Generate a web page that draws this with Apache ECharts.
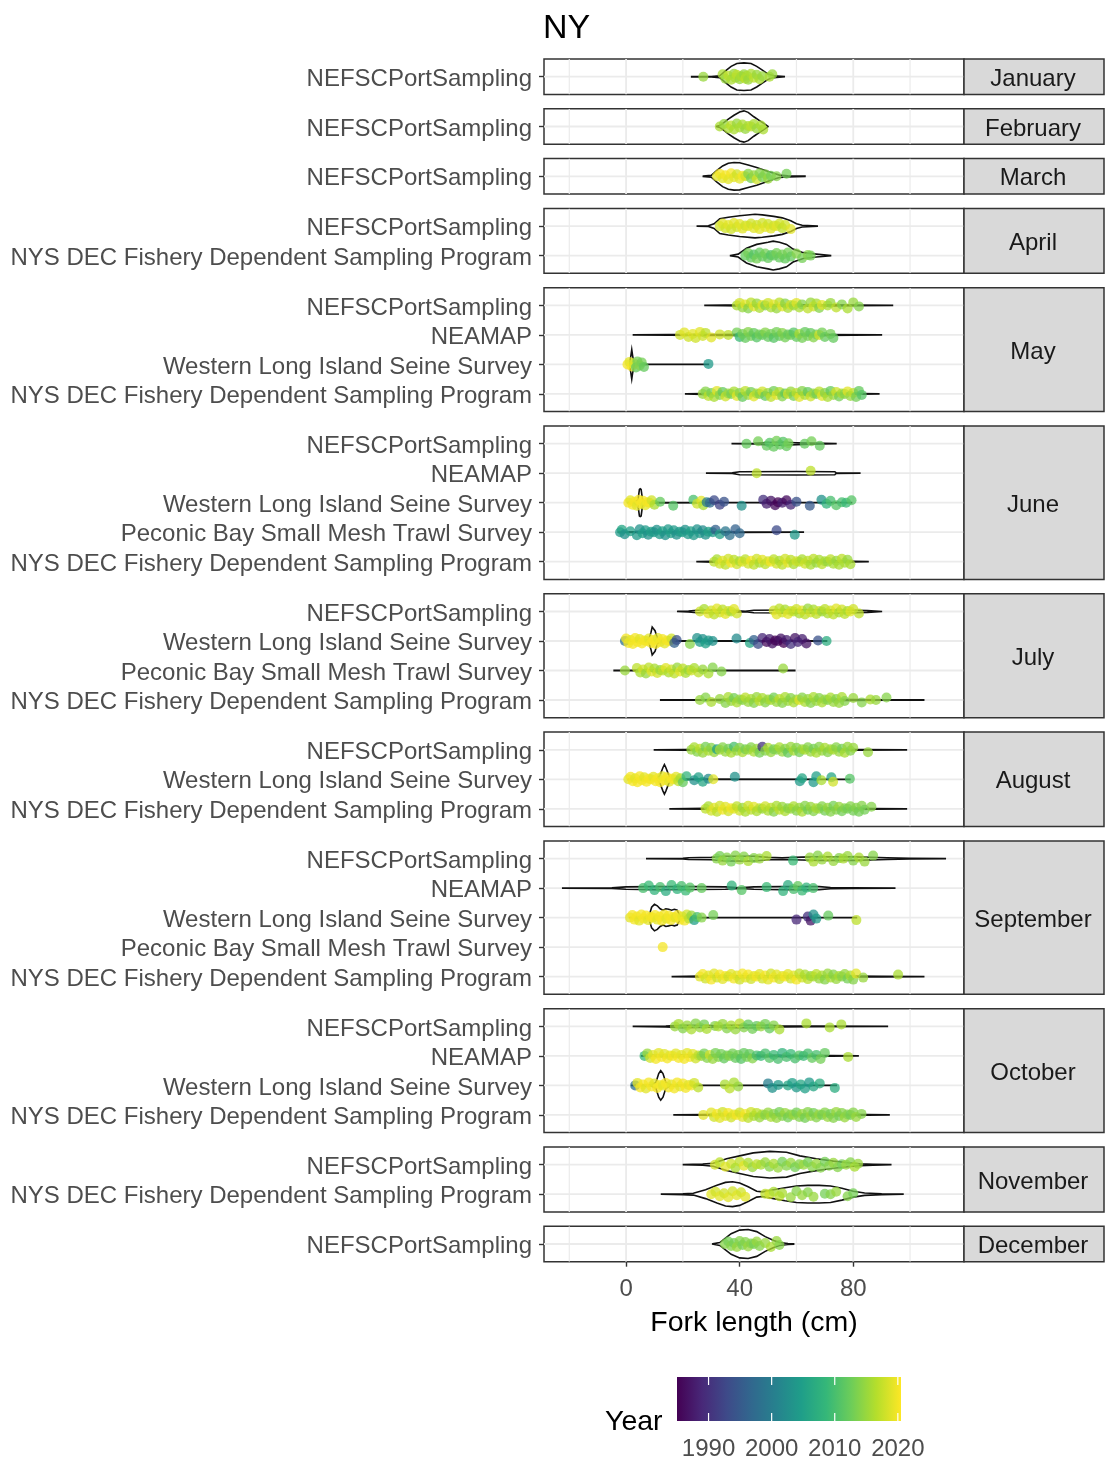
<!DOCTYPE html>
<html>
<head>
<meta charset="utf-8">
<script src="https://cdn.jsdelivr.net/npm/echarts@6/dist/echarts.min.js"></script>
<style>html,body{margin:0;padding:0;background:#fff}#c{width:1105px;height:1462px}</style>
</head>
<body>
<div id="c"></div>
<script>
// ---------------- DATA ----------------
const months = ['January','February','March','April','May','June','July','August','September','October','November','December'];
const S_NEFSC = 'NEFSCPortSampling', S_NEAMAP = 'NEAMAP', S_WLIS = 'Western Long Island Seine Survey',
      S_PEC = 'Peconic Bay Small Mesh Trawl Survey', S_NYS = 'NYS DEC Fishery Dependent Sampling Program';
const sourcesByMonth = [
  [S_NEFSC],[S_NEFSC],[S_NEFSC],[S_NEFSC,S_NYS],
  [S_NEFSC,S_NEAMAP,S_WLIS,S_NYS],
  [S_NEFSC,S_NEAMAP,S_WLIS,S_PEC,S_NYS],
  [S_NEFSC,S_WLIS,S_PEC,S_NYS],
  [S_NEFSC,S_WLIS,S_NYS],
  [S_NEFSC,S_NEAMAP,S_WLIS,S_PEC,S_NYS],
  [S_NEFSC,S_NEAMAP,S_WLIS,S_NYS],
  [S_NEFSC,S_NYS],[S_NEFSC]
];
const xMajorTicks = [0,40,80];
const xMinorGrid = [-20,20,60,100];
const yearTicks = [1990,2000,2010,2020];
const yearRange = [1985,2020.5];
const viridis = ['#440154','#482878','#3e4a89','#31688e','#26828e','#1f9e89','#35b779','#6dcd59','#b4de2c','#fde725'];

// points: [fork length cm, year]; violins: [fork length cm, half width in category units]
const jan_nefsc_pts = [[27.2,2015],[34,2016],[35,2015],[36,2017],[37,2016],[38,2015],[38.5,2016],[39,2017],[40,2015],[40.5,2016],[41,2016],[41.5,2015],[42,2017],[42.5,2016],[43,2015],[44,2016],[45,2017],[46,2015],[47,2016],[48,2015],[50.5,2016],[51.5,2015]];
const jan_nefsc_vio = [[23.1,0.005],[30,0.008],[33,0.03],[35,0.2],[37,0.35],[39,0.45],[41.5,0.47],[44,0.45],[46,0.35],[48,0.22],[50,0.09],[52,0.03],[55.7,0.005]];
const feb_nefsc_pts = [[33,2016],[34.5,2015],[36,2016],[37,2017],[38,2016],[39,2015],[40,2016],[41,2016],[42,2015],[43,2016],[44,2017],[45,2016],[46,2015],[47.5,2016],[48.3,2016]];
const feb_nefsc_vio = [[31.9,0.005],[33,0.03],[34,0.1],[36,0.25],[38,0.38],[40,0.49],[41.5,0.53],[43,0.48],[45,0.33],[47,0.2],[49,0.07],[50,0.005]];
const mar_nefsc_pts = [[32,2019],[33,2020],[34,2019],[35,2020],[36,2019],[37,2020],[38,2019],[39,2018],[40,2019],[41,2020],[42,2018],[43,2014],[44,2013],[45,2015],[46,2018],[47,2014],[48,2013],[49,2014],[50,2015],[51,2013],[53,2014],[56.5,2013]];
const mar_nefsc_vio = [[27.2,0.005],[30,0.03],[32,0.2],[34,0.35],[36,0.44],[38,0.47],[40,0.46],[43,0.38],[46,0.3],[49,0.2],[52,0.1],[54,0.04],[57,0.02],[63,0.005]];
const apr_nefsc_pts = [[33,2018],[34,2019],[35,2018],[36,2019],[37,2018],[38,2019],[39,2018],[40,2019],[41,2019],[42,2018],[43,2019],[44,2018],[45,2019],[46,2018],[47,2019],[48,2018],[49,2019],[50,2018],[51,2019],[52,2018],[53,2019],[54,2018],[55,2017],[56,2018],[58,2019]];
const apr_nefsc_vio = [[25.1,0.005],[29,0.01],[31,0.08],[33,0.25],[36,0.3],[40,0.35],[45.4,0.4],[48,0.38],[52,0.33],[55,0.28],[58,0.18],[60,0.08],[62,0.03],[67.3,0.005]];
const apr_nys_pts = [[42,2012],[43,2013],[44,2012],[45,2011],[46,2013],[47,2012],[48,2012],[49,2013],[50,2012],[51,2011],[52,2012],[53,2013],[54,2012],[55,2013],[56,2012],[57,2013],[58,2012],[60,2014],[62,2013],[64,2014],[65,2013]];
const apr_nys_vio = [[36.8,0.005],[39.5,0.05],[42.4,0.25],[46,0.38],[50,0.45],[51.8,0.49],[54,0.45],[56.5,0.38],[58.8,0.22],[62.4,0.1],[67,0.05],[72,0.005]];
const may_nefsc_pts = [[39,2016],[40,2018],[41,2015],[42,2019],[43,2014],[44,2017],[45,2019],[46,2015],[47,2016],[48,2019],[49,2014],[50,2018],[51,2016],[52,2019],[53,2015],[54,2017],[55,2019],[56,2014],[57,2016],[58,2018],[59,2015],[60,2019],[61,2016],[62,2014],[64,2017],[65,2015],[66,2018],[67,2016],[68,2014],[69,2019],[71,2016],[72,2015],[74,2017],[76,2014],[78,2016],[80,2015],[82,2014]];
const may_nefsc_vio = [[27.8,0.003],[35,0.01],[40,0.015],[50,0.02],[60,0.02],[70,0.018],[80,0.012],[93.8,0.003]];
const may_neamap_pts = [[19,2018],[20.5,2019],[22,2018],[23.5,2019],[24.5,2018],[26,2019],[27,2018],[28,2017],[30,2019],[33,2018],[36,2017],[39,2013],[40,2009],[41,2013],[42,2012],[43,2014],[44,2013],[45,2012],[46,2011],[47,2013],[48,2012],[49,2014],[50,2012],[51,2013],[52,2011],[53,2013],[54,2012],[55,2014],[56,2013],[57,2012],[58,2013],[59,2011],[60,2012],[61,2016],[62,2013],[63,2012],[64,2013],[65,2012],[66,2014],[67,2013],[68,2018],[69,2013],[70,2012],[72,2013],[73,2012]];
const may_neamap_vio = [[2.6,0.003],[15,0.012],[30,0.015],[50,0.02],[70,0.015],[89.9,0.003]];
const may_wlis_pts = [[0.5,2020],[1.2,2019],[2,2020],[2.8,2018],[3.5,2012],[4,2013],[4.8,2014],[5.5,2013],[6.3,2012],[29,2004]];
const may_wlis_vio = [[1.2,0.01],[1.7,0.3],[2,0.5],[2.3,0.3],[2.8,0.02],[8,0.005],[29,0.003]];
const may_nys_pts = [[27,2015],[28,2014],[29,2017],[30,2013],[31,2016],[32,2019],[33,2014],[34,2012],[35,2018],[36,2015],[37,2013],[38,2016],[39,2019],[40,2014],[41,2012],[42,2017],[43,2015],[44,2013],[45,2019],[46,2016],[47,2014],[48,2018],[49,2012],[50,2015],[51,2017],[52,2013],[53,2019],[54,2016],[55,2014],[56,2012],[57,2018],[58,2015],[59,2013],[60,2017],[61,2019],[62,2014],[63,2016],[64,2012],[65,2018],[66,2015],[67,2013],[68,2017],[69,2019],[70,2014],[71,2016],[72,2012],[73,2015],[74,2018],[75,2013],[76,2016],[77,2014],[78,2019],[79,2015],[80,2017],[81,2013],[82,2012],[83,2011]];
const may_nys_vio = [[21,0.003],[27,0.015],[40,0.02],[55,0.025],[70,0.02],[83,0.012],[89,0.003]];
const jun_nefsc_pts = [[42.4,2012],[46.5,2013],[49.5,2012],[50.6,2011],[52,2012],[53,2013],[54.2,2012],[55.3,2011],[56.5,2012],[57.2,2013],[62.9,2012],[65.3,2013],[68.2,2012]];
const jun_nefsc_vio = [[37.4,0.003],[45,0.01],[50,0.04],[55,0.05],[60,0.03],[65,0.02],[73.9,0.003]];
const jun_neamap_pts = [[46,2017],[65,2017]];
const jun_neamap_vio = [[28.4,0.003],[37.4,0.01],[40,0.05],[60,0.06],[73.5,0.05],[74,0.01],[82.3,0.003]];
const jun_wlis_pts = [[0.8,2020],[1.5,2019],[2.3,2020],[3,2020],[3.8,2019],[4.5,2020],[5.3,2020],[6,2020],[6.8,2019],[7.5,2020],[8.3,2020],[9,2018],[10,2016],[12,2012],[16.6,2011],[23.7,2010],[25,2018],[26.5,2019],[27.2,2016],[28.4,2000],[29.5,1997],[31,1993],[33,1992],[34.5,1994],[40.7,2003],[48.3,1990],[49.5,1988],[51,1987],[52.5,1986],[53.5,1985],[55,1988],[56.5,1986],[58,1989],[60,1994],[64.7,1995],[68.8,2003],[70.6,2008],[72,2010],[74,2011],[76,2010],[77.5,2009],[79.4,2011]];
const jun_wlis_vio = [[0.8,0.003],[3,0.02],[4.2,0.1],[4.7,0.45],[5,0.47],[5.3,0.45],[5.8,0.1],[7,0.02],[12,0.006],[30,0.004],[60,0.003],[79.4,0.003]];
const jun_pec_pts = [[-2.1,2004],[-1.5,2006],[-0.5,2003],[1.5,2005],[3.8,2004],[4.8,2003],[5.8,2005],[6.8,2004],[7.8,2003],[8.8,2005],[9.8,2004],[10.8,2003],[11.8,2004],[12.8,2005],[13.8,2003],[14.8,2004],[15.8,2005],[16.8,2004],[17.8,2003],[18.8,2004],[19.8,2005],[20.8,2003],[21.8,2004],[22.8,2005],[23.8,2004],[25,2003],[26,2004],[27,2002],[28,2003],[29,2005],[30.5,2004],[31.5,1996],[33,2005],[35,1999],[36.5,1998],[38.5,1996],[40,1997],[53,1993],[59.4,2004]];
const jun_pec_vio = [[-2.7,0.003],[3,0.01],[10,0.015],[25,0.01],[40,0.005],[62.4,0.003]];
const jun_nys_pts = [[31,2017],[32,2016],[33,2018],[34,2019],[35,2017],[36,2018],[37,2020],[38,2017],[39,2018],[40,2016],[41,2019],[42,2017],[43,2018],[44,2020],[45,2017],[46,2018],[47,2016],[48,2019],[49,2017],[50,2018],[51,2020],[52,2017],[53,2018],[54,2016],[55,2017],[56,2018],[57,2019],[58,2017],[59,2016],[60,2018],[61,2017],[62,2016],[63,2018],[64,2017],[65,2016],[66,2017],[67,2015],[68,2016],[69,2017],[70,2016],[71,2015],[72,2017],[73,2016],[74,2015],[75,2016],[76,2017],[77,2016],[78,2015],[79,2016]];
const jun_nys_vio = [[25,0.003],[31,0.015],[45,0.025],[60,0.025],[75,0.02],[80,0.01],[85.2,0.003]];
const jul_nefsc_pts = [[26,2018],[27.5,2016],[29,2019],[30,2018],[31,2017],[32,2019],[33,2018],[34,2017],[35,2019],[36,2018],[37,2016],[38,2019],[39,2018],[52,2018],[53,2019],[54,2017],[55,2018],[56,2016],[57,2019],[58,2018],[59,2017],[60,2018],[61,2016],[62,2019],[63,2017],[64,2015],[65,2018],[66,2016],[67,2017],[68,2018],[69,2015],[70,2017],[71,2016],[72,2018],[73,2017],[74,2019],[75,2016],[76,2018],[77,2017],[78,2016],[79,2019],[80,2018],[82,2017]];
const jul_nefsc_vio = [[18.2,0.003],[22,0.012],[25,0.04],[35,0.04],[39,0.02],[42,0.01],[45,0.04],[60,0.05],[80,0.04],[85,0.03],[89.9,0.003]];
const jul_wlis_pts = [[-0.4,1998],[0,2020],[0.8,2020],[1.6,2019],[2.4,2020],[3.2,2020],[4,2020],[4.8,2019],[5.6,2020],[6.4,2020],[7.2,2020],[8,2019],[8.8,2020],[9.6,2020],[10.4,2020],[11.2,2019],[12,2020],[12.8,2020],[13.6,2019],[14.4,2020],[15.2,2020],[16,2018],[17,1996],[17.8,1994],[22.5,2014],[25,2003],[26,2004],[27,2003],[28,2005],[29,2004],[30.5,2003],[38.9,2002],[43.6,2006],[45,1996],[46.5,1993],[48,1989],[49.5,1986],[50.5,1988],[51.5,1987],[52.5,1985],[53.5,1986],[54.5,1987],[55.5,1985],[56.5,1988],[58,1990],[59.5,1987],[60.5,1989],[62,1988],[63.5,1987],[67.6,1994],[70.6,2007]];
const jul_wlis_vio = [[-0.4,0.003],[6,0.01],[8,0.05],[8.8,0.3],[9.2,0.47],[9.6,0.42],[10.2,0.35],[11,0.1],[12,0.02],[20,0.005],[70.6,0.003]];
const jul_pec_pts = [[-0.4,2015],[3.8,2017],[5,2016],[6,2018],[7,2015],[8,2017],[9,2019],[10,2016],[11,2018],[12,2015],[13,2017],[14,2019],[15,2016],[16,2018],[17,2017],[18,2015],[19,2019],[20,2017],[21,2016],[22,2015],[23,2018],[24,2016],[25.5,2017],[27,2015],[29,2016],[30.5,2014],[33.6,2014],[55.3,2015]];
const jul_pec_vio = [[-4.2,0.003],[2,0.01],[10,0.02],[20,0.015],[30,0.008],[59.4,0.003]];
const jul_nys_pts = [[26,2015],[28,2014],[30,2016],[33,2015],[35,2014],[36,2016],[37,2015],[38,2013],[39,2016],[40,2015],[41,2014],[42,2017],[43,2015],[44,2016],[45,2014],[46,2015],[47,2017],[48,2016],[49,2014],[50,2015],[51,2016],[52,2013],[53,2015],[54,2017],[55,2014],[56,2016],[57,2015],[58,2014],[59,2016],[60,2015],[61,2019],[62,2014],[63,2016],[64,2015],[65,2014],[66,2016],[67,2015],[68,2014],[69,2016],[70,2015],[71,2014],[72,2016],[73,2015],[74,2014],[75,2015],[76,2016],[77,2014],[80,2015],[83,2014],[86,2016],[88,2015],[91.7,2014]];
const jul_nys_vio = [[12.2,0.003],[25,0.01],[40,0.02],[60,0.025],[80,0.015],[92,0.008],[104.8,0.003]];
const aug_nefsc_pts = [[23,2015],[24,2016],[25,2014],[26,2017],[27,2015],[28,2013],[29,2016],[30,2014],[31,2015],[32,2005],[33,2016],[34,2014],[35,2015],[36,2013],[37,2016],[38,2010],[39,2015],[40,2014],[41,2016],[42,2013],[43,2015],[44,2014],[45,2016],[46,2015],[47,2013],[48,1990],[49,2014],[50,2016],[51,2015],[52,2013],[53,2014],[54,2016],[55,2015],[56,2014],[57,2012],[58,2015],[59,2016],[60,2014],[61,2013],[62,2015],[63,2016],[64,2014],[65,2015],[66,2013],[67,2016],[68,2014],[69,2015],[70,2016],[71,2014],[72,2015],[73,2016],[74,2014],[75,2015],[76,2013],[77,2016],[78,2015],[79,2014],[80,2015],[85.2,2015]];
const aug_nefsc_vio = [[10,0.003],[20,0.012],[30,0.02],[50,0.025],[70,0.02],[82,0.012],[98.7,0.003]];
const aug_wlis_pts = [[0.8,2019],[1.6,2020],[2.4,2020],[3.2,2019],[4,2020],[4.8,2020],[5.6,2020],[6.4,2019],[7.2,2020],[8,2020],[8.8,2020],[9.6,2019],[10.4,2020],[11.2,2020],[12,2020],[12.8,2019],[13.6,2020],[14.4,2020],[15.2,2019],[16,2020],[16.8,2020],[17.6,2019],[18.4,2017],[19.2,2016],[20,2012],[21.3,2008],[24,2003],[25.5,2005],[27,2006],[29,2002],[30.7,2019],[38.3,2003],[61.2,2004],[62,2006],[66,2004],[67,2005],[68.8,2016],[72.3,2006],[72.9,2018],[78.8,2011]];
const aug_wlis_vio = [[0.8,0.003],[10,0.01],[11,0.02],[12,0.15],[13,0.4],[13.5,0.5],[14,0.4],[15,0.15],[15.5,0.02],[25,0.005],[78.8,0.003]];
const aug_nys_pts = [[28,2017],[29,2016],[30,2018],[31,2019],[32,2017],[33,2018],[34,2020],[35,2019],[36,2018],[37,2020],[38,2019],[39,2017],[40,2018],[41,2015],[42,2016],[43,2018],[44,2017],[45,2019],[46,2016],[47,2017],[48,2015],[49,2018],[50,2016],[51,2017],[52,2014],[53,2016],[54,2017],[55,2015],[56,2016],[57,2014],[58,2015],[59,2016],[60,2014],[61,2015],[62,2016],[63,2014],[64,2013],[65,2015],[66,2014],[67,2016],[68,2015],[69,2014],[70,2013],[71,2015],[72,2014],[73,2013],[74,2014],[75,2015],[76,2013],[77,2014],[78,2013],[79,2014],[80,2013],[81,2014],[82,2013],[83,2014],[84,2013],[86.4,2014]];
const aug_nys_vio = [[15.5,0.003],[28,0.015],[40,0.025],[60,0.025],[80,0.02],[87,0.01],[98.7,0.003]];
const sep_nefsc_pts = [[31.9,2014],[33,2013],[34,2015],[35.5,2014],[37,2013],[38.5,2014],[40,2015],[41.5,2014],[43,2016],[45,2014],[47,2015],[49.5,2016],[58.8,2009],[64.7,2015],[66,2016],[67.5,2014],[69,2015],[71,2016],[73,2015],[75,2014],[76.5,2016],[78,2015],[80,2014],[82,2016],[84,2015],[87,2014]];
const sep_nefsc_vio = [[7.3,0.003],[20,0.01],[22,0.03],[30,0.04],[35,0.08],[45,0.08],[50,0.04],[55,0.03],[62,0.05],[68,0.06],[80,0.06],[92,0.03],[100,0.01],[112.4,0.003]];
const sep_neamap_pts = [[6,2010],[8,2009],[10,2008],[12,2010],[14,2007],[16,2009],[18,2008],[19.5,2010],[21,2009],[22.5,2011],[26.6,2012],[37.2,2008],[40.7,2011],[49.5,2009],[55.3,2008],[57,2007],[59,2010],[60.5,2012],[62,2009],[63.5,2008],[65.9,2010]];
const sep_neamap_vio = [[-22.3,0.003],[-5,0.008],[0,0.04],[10,0.05],[25,0.05],[35,0.04],[40,0.01],[45,0.04],[55,0.05],[68,0.05],[72,0.02],[80,0.008],[94.6,0.003]];
const sep_wlis_pts = [[1.4,2019],[2.2,2020],[3,2020],[3.8,2020],[4.6,2019],[5.4,2020],[6.2,2020],[7,2020],[7.8,2019],[8.6,2020],[9.4,2020],[10.2,2020],[11,2019],[11.8,2020],[12.6,2020],[13.4,2020],[14.2,2019],[15,2020],[15.8,2020],[16.6,2020],[17.4,2019],[18.2,2020],[19,2020],[19.8,2019],[20.6,2020],[21.4,2018],[22.2,2017],[23,2015],[24,2005],[25,2010],[26.6,2014],[30.7,2013],[60,1989],[64,1990],[65,1987],[66,2003],[67,2004],[71.2,2012],[81.1,2017]];
const sep_wlis_vio = [[1.4,0.003],[8,0.02],[9,0.35],[10,0.45],[11,0.4],[12,0.3],[13,0.25],[14,0.3],[15,0.28],[16,0.25],[17,0.28],[18,0.25],[19,0.05],[21,0.01],[30,0.004],[81.1,0.003]];
const sep_pec_pts = [[12.9,2020]];
const sep_nys_pts = [[26,2019],[27,2020],[28,2018],[29,2019],[30,2020],[31,2019],[32,2018],[33,2020],[34,2019],[35,2020],[36,2018],[37,2019],[38,2020],[39,2019],[40,2018],[41,2020],[42,2019],[43,2020],[44,2018],[45,2019],[46,2020],[47,2019],[48,2018],[49,2020],[50,2019],[51,2018],[52,2020],[53,2019],[54,2018],[55,2019],[56,2020],[57,2019],[58,2018],[59,2019],[60,2020],[61,2017],[62,2018],[63,2016],[64,2017],[65,2015],[66,2016],[67,2017],[68,2015],[69,2016],[70,2014],[71,2015],[72,2016],[73,2014],[74,2015],[75,2016],[76,2014],[77,2015],[78,2013],[79,2016],[80,2014],[81,2019],[83.5,2015],[95.8,2016]];
const sep_nys_vio = [[16.3,0.003],[26,0.015],[40,0.03],[60,0.025],[80,0.015],[90,0.008],[104.8,0.003]];
const oct_nefsc_pts = [[17.2,2015],[18.5,2016],[20,2014],[21.5,2015],[23,2016],[24.5,2014],[26,2015],[27.5,2013],[28.4,2016],[31.3,2014],[32.5,2016],[34,2015],[35.5,2014],[37,2016],[38.5,2015],[40,2017],[41.5,2014],[43,2012],[44.5,2013],[46,2012],[47.5,2015],[49,2013],[50.5,2012],[52,2014],[54,2016],[63.5,2016],[71.7,2016],[75.8,2016]];
const oct_nefsc_vio = [[2.6,0.003],[14,0.015],[20,0.04],[30,0.03],[32,0.01],[35,0.04],[50,0.04],[55,0.02],[65,0.01],[92,0.003]];
const oct_neamap_pts = [[6.5,2009],[7.5,2015],[8.5,2018],[9.5,2019],[10.5,2020],[11.5,2019],[12.5,2020],[13.5,2019],[14.5,2020],[15.5,2019],[16.5,2020],[17.5,2019],[18.5,2020],[19.5,2019],[20.5,2020],[21.5,2019],[22.5,2020],[23.5,2019],[24.5,2018],[25.5,2017],[26.5,2015],[27.5,2013],[28.5,2014],[29.5,2018],[30.5,2015],[31.5,2013],[32.5,2014],[33.5,2013],[34.5,2012],[35.5,2013],[36.5,2014],[37.5,2013],[38.5,2012],[39.5,2013],[40.5,2011],[41.5,2012],[42.5,2013],[43.5,2012],[44.5,2014],[46,2010],[47.5,2009],[49,2010],[50.5,2011],[52,2009],[53.5,2010],[55,2008],[56.5,2010],[58,2009],[59.5,2010],[61,2011],[62.5,2009],[64,2010],[65.5,2012],[67,2010],[68.5,2013],[70,2012],[78.2,2016]];
const oct_neamap_vio = [[5.5,0.003],[8,0.02],[20,0.03],[40,0.025],[60,0.015],[72,0.008],[81.7,0.003]];
const oct_wlis_pts = [[3.2,1998],[4,2019],[5,2020],[6,2020],[7,2019],[8,2020],[9,2020],[10,2019],[11,2020],[12,2020],[13,2019],[14,2020],[15,2020],[16,2019],[17,2020],[18,2020],[19,2019],[20,2020],[21,2020],[22,2019],[23,2020],[24,2018],[25.4,2017],[34.8,2016],[36.5,2017],[38,2016],[39.5,2015],[50,2000],[51.5,2003],[53.6,2004],[57,2006],[58.5,2005],[60,2004],[61.5,2006],[63,2005],[64.5,2004],[66,2006],[68.2,2007],[73.5,2007]];
const oct_wlis_vio = [[2,0.003],[9,0.02],[10.5,0.1],[11.5,0.4],[12.2,0.5],[13,0.4],[14,0.1],[15.5,0.02],[25,0.005],[74,0.003]];
const oct_nys_pts = [[27.2,2019],[30,2019],[31,2018],[32,2020],[33,2019],[34,2018],[35,2019],[36,2020],[37,2018],[38,2019],[39,2020],[40,2018],[41,2019],[42,2020],[43,2017],[44,2018],[45,2016],[46,2017],[47,2015],[48,2016],[49,2014],[50,2015],[51,2016],[52,2014],[53,2015],[54,2013],[55,2014],[56,2015],[57,2013],[58,2014],[59,2015],[60,2013],[61,2014],[62,2015],[63,2013],[64,2014],[65,2015],[66,2013],[67,2014],[68,2015],[69,2013],[70,2014],[71,2015],[72,2013],[73,2014],[74,2015],[75,2013],[76,2014],[77,2015],[78,2014],[79,2013],[80,2014],[81,2015],[82.9,2014]];
const oct_nys_vio = [[16.9,0.003],[27,0.012],[40,0.025],[60,0.02],[80,0.015],[85,0.008],[92.6,0.003]];
const nov_nefsc_pts = [[31.3,2018],[33,2017],[35,2019],[37,2018],[38.5,2016],[40,2017],[41.5,2019],[43,2016],[44.5,2015],[46,2017],[47.5,2016],[49,2015],[50.5,2014],[52,2016],[53.5,2015],[55,2013],[56.5,2014],[58,2015],[59.5,2013],[61,2014],[62.5,2015],[64,2013],[65.5,2014],[67,2015],[68.5,2014],[70,2013],[71.5,2014],[73,2015],[74.5,2014],[76,2013],[77.5,2015],[79,2014],[80.5,2016],[81.7,2015]];
const nov_nefsc_vio = [[20.2,0.003],[27,0.02],[30.7,0.05],[35.4,0.2],[40,0.3],[44.8,0.4],[50.6,0.45],[56.5,0.42],[61.2,0.3],[67,0.2],[73,0.12],[78.8,0.06],[82.3,0.03],[87,0.015],[93.2,0.003]];
const nov_nys_pts = [[30,2019],[31.5,2018],[33,2019],[34.5,2018],[36,2019],[37.5,2018],[39,2019],[40.5,2018],[42,2019],[49,2017],[50.5,2018],[52,2016],[54,2017],[55,2016],[58,2015],[60,2014],[62,2015],[64,2014],[66,2015],[70,2013],[72,2014],[74,2015],[78,2014],[80,2013]];
const nov_nys_vio = [[12.5,0.003],[20,0.015],[23.7,0.03],[28,0.15],[32,0.3],[35,0.4],[37.5,0.42],[40,0.38],[43,0.25],[46,0.1],[48,0.08],[52,0.15],[56,0.22],[60,0.28],[64,0.3],[68,0.3],[72,0.28],[76,0.2],[80,0.1],[84,0.04],[90,0.015],[97.5,0.003]];
const dec_nefsc_pts = [[34.8,2014],[36,2013],[37,2014],[38,2013],[39,2015],[40,2014],[41,2013],[42,2014],[43,2015],[44,2014],[45,2013],[46,2015],[47,2014],[49,2015],[51,2016],[53,2015],[54,2014]];
const dec_nefsc_vio = [[30.5,0.005],[33,0.05],[35,0.2],[37,0.35],[40,0.47],[43,0.49],[46,0.42],[49,0.25],[52,0.12],[54,0.05],[57,0.015],[59,0.005]];

const pointsByMonth = [
  [jan_nefsc_pts],[feb_nefsc_pts],[mar_nefsc_pts],[apr_nefsc_pts,apr_nys_pts],
  [may_nefsc_pts,may_neamap_pts,may_wlis_pts,may_nys_pts],
  [jun_nefsc_pts,jun_neamap_pts,jun_wlis_pts,jun_pec_pts,jun_nys_pts],
  [jul_nefsc_pts,jul_wlis_pts,jul_pec_pts,jul_nys_pts],
  [aug_nefsc_pts,aug_wlis_pts,aug_nys_pts],
  [sep_nefsc_pts,sep_neamap_pts,sep_wlis_pts,sep_pec_pts,sep_nys_pts],
  [oct_nefsc_pts,oct_neamap_pts,oct_wlis_pts,oct_nys_pts],
  [nov_nefsc_pts,nov_nys_pts],[dec_nefsc_pts]
];
const violinsByMonth = [
  [jan_nefsc_vio],[feb_nefsc_vio],[mar_nefsc_vio],[apr_nefsc_vio,apr_nys_vio],
  [may_nefsc_vio,may_neamap_vio,may_wlis_vio,may_nys_vio],
  [jun_nefsc_vio,jun_neamap_vio,jun_wlis_vio,jun_pec_vio,jun_nys_vio],
  [jul_nefsc_vio,jul_wlis_vio,jul_pec_vio,jul_nys_vio],
  [aug_nefsc_vio,aug_wlis_vio,aug_nys_vio],
  [sep_nefsc_vio,sep_neamap_vio,sep_wlis_vio,null,sep_nys_vio],
  [oct_nefsc_vio,oct_neamap_vio,oct_wlis_vio,oct_nys_vio],
  [nov_nefsc_vio,nov_nys_vio],[dec_nefsc_vio]
];

// ---------------- LAYOUT / STYLE ----------------
const FONT = '"Liberation Sans", Arial, Helvetica, sans-serif';
const PANEL_LEFT = 544, PANEL_RIGHT = 964, STRIP_W = 140;
const TOP0 = 59, UNIT = 29.5, GAP = 14.4;
const XMIN = -28.9, XMAX = 119.0;
const LABEL_NUDGE = 0.085;   // category units: places label glyph centres like ggplot's text baseline
const JITTER_PX = [0, -2.5, 2, -1, 3, -3, 1, -2, 2.5, -0.5];  // small vertical jitter (pixels) like geom_jitter

const chart = echarts.init(document.getElementById('c'), null, {renderer: 'canvas'});
const grids = [], xAxes = [], yAxes = [], series = [], graphics = [];
const scatterIdx = [];
let panelTop = TOP0;
months.forEach((m, i) => {
  const srcs = sourcesByMonth[i];
  const n = srcs.length;
  const h = (n + 0.2) * UNIT;
  const last = i === months.length - 1;
  grids.push({left: PANEL_LEFT, width: PANEL_RIGHT - PANEL_LEFT, top: panelTop, height: h,
    show: true, backgroundColor: '#ffffff', borderColor: '#333333', borderWidth: 1.5, containLabel: false});
  const cv = srcs.map((s, k) => k);
  xAxes.push({type: 'value', gridIndex: i, min: XMIN, max: XMAX,
    axisLine: {show: false, onZero: false}, splitLine: {show: false},
    axisTick: {show: last, customValues: xMajorTicks, length: 5, lineStyle: {color: '#333333', width: 1.4}},
    axisLabel: {show: last, customValues: xMajorTicks, fontSize: 24, color: '#4d4d4d', fontFamily: FONT, margin: 16},
    name: last ? 'Fork length (cm)' : '', nameLocation: 'middle', nameGap: 47,
    nameTextStyle: {fontSize: 28.5, color: '#000', fontFamily: FONT}});
  yAxes.push({type: 'value', gridIndex: i, min: -0.6, max: n - 0.4, inverse: true,
    axisLine: {show: false, onZero: false}, splitLine: {show: false},
    axisTick: {show: true, customValues: cv, length: 5, lineStyle: {color: '#333333', width: 1.4}},
    axisLabel: {show: true, customValues: cv.map(k => k + LABEL_NUDGE), fontSize: 24, color: '#4d4d4d', fontFamily: FONT, margin: 12,
      formatter: v => srcs[Math.round(v)] || ''}});
  // background grid lines
  series.push({type: 'custom', xAxisIndex: i, yAxisIndex: i, z: 1, silent: true, clip: true,
    data: [[XMIN, -0.6]],
    renderItem: (params, api) => {
      const cs = params.coordSys;
      const children = [];
      xMinorGrid.forEach(v => { const x = api.coord([v, 0])[0];
        children.push({type: 'line', shape: {x1: x, y1: cs.y, x2: x, y2: cs.y + cs.height}, style: {stroke: '#ebebeb', lineWidth: 1.2}}); });
      xMajorTicks.forEach(v => { const x = api.coord([v, 0])[0];
        children.push({type: 'line', shape: {x1: x, y1: cs.y, x2: x, y2: cs.y + cs.height}, style: {stroke: '#ebebeb', lineWidth: 1.8}}); });
      cv.forEach(k => { const y = api.coord([0, k])[1];
        children.push({type: 'line', shape: {x1: cs.x, y1: y, x2: cs.x + cs.width, y2: y}, style: {stroke: '#ebebeb', lineWidth: 1.8}}); });
      return {type: 'group', children: children};
    }});
  // violins
  violinsByMonth[i].forEach((prof, k) => {
    if (!prof) return;
    series.push({type: 'custom', xAxisIndex: i, yAxisIndex: i, z: 2, silent: true,
      data: prof.map(p => [p[0], k]),
      renderItem: (params, api) => {
        if (params.dataIndex !== 0) return null;
        const pts = [];
        prof.forEach(p => pts.push(api.coord([p[0], k - p[1]])));
        for (let j = prof.length - 1; j >= 0; j--) pts.push(api.coord([prof[j][0], k + prof[j][1]]));
        return {type: 'polygon', shape: {points: pts}, style: {fill: '#ffffff', stroke: '#111111', lineWidth: 1.6}};
      }});
  });
  // points
  pointsByMonth[i].forEach((pts, k) => {
    scatterIdx.push(series.length);
    series.push({type: 'scatter', xAxisIndex: i, yAxisIndex: i, z: 3, silent: true,
      data: pts.map((p, j) => ({value: [p[0], p[1], k], symbolOffset: [0, JITTER_PX[j % JITTER_PX.length]]})),
      encode: {x: 0, y: 2},
      symbolSize: 10, itemStyle: {opacity: 0.75}});
  });
  // strip
  graphics.push({type: 'rect', shape: {x: PANEL_RIGHT, y: panelTop, width: STRIP_W, height: h},
    style: {fill: '#d9d9d9', stroke: '#333333', lineWidth: 1.5}, z: 10});
  graphics.push({type: 'text', x: PANEL_RIGHT + STRIP_W / 2 - 1, y: panelTop + h / 2 + 2.5,
    style: {text: m, fill: '#1a1a1a', font: '24px ' + FONT, textAlign: 'center', textVerticalAlign: 'middle'}, z: 11});
  panelTop += h + GAP;
});

// colour bar legend
const CB_X = 677, CB_W = 224, CB_Y = 1377, CB_H = 44;
const yearToX = y => CB_X + (y - yearRange[0]) / (yearRange[1] - yearRange[0]) * CB_W;
graphics.push({type: 'text', x: 605, y: 1422, style: {text: 'Year', fill: '#000', font: '28.5px ' + FONT, textVerticalAlign: 'middle'}});
graphics.push({type: 'rect', shape: {x: CB_X, y: CB_Y, width: CB_W, height: CB_H},
  style: {fill: new echarts.graphic.LinearGradient(0, 0, 1, 0, viridis.map((c, j) => ({offset: j / (viridis.length - 1), color: c})))}});
yearTicks.forEach(yr => {
  const x = yearToX(yr);
  graphics.push({type: 'line', shape: {x1: x, y1: CB_Y, x2: x, y2: CB_Y + 8}, style: {stroke: '#ffffff', lineWidth: 1.2}});
  graphics.push({type: 'line', shape: {x1: x, y1: CB_Y + CB_H - 8, x2: x, y2: CB_Y + CB_H}, style: {stroke: '#ffffff', lineWidth: 1.2}});
  graphics.push({type: 'text', x: x, y: 1449, style: {text: String(yr), fill: '#4d4d4d', font: '24px ' + FONT, textAlign: 'center', textVerticalAlign: 'middle'}});
});

chart.setOption({
  animation: false,
  textStyle: {fontFamily: FONT},
  title: {text: 'NY', left: 543, top: 12, padding: 0, textStyle: {fontSize: 34, fontWeight: 'normal', color: '#000', fontFamily: FONT}},
  grid: grids, xAxis: xAxes, yAxis: yAxes, series: series,
  visualMap: {type: 'continuous', show: false, dimension: 1, min: yearRange[0], max: yearRange[1],
    seriesIndex: scatterIdx, inRange: {color: viridis}},
  graphic: graphics
});
</script>
</body>
</html>
